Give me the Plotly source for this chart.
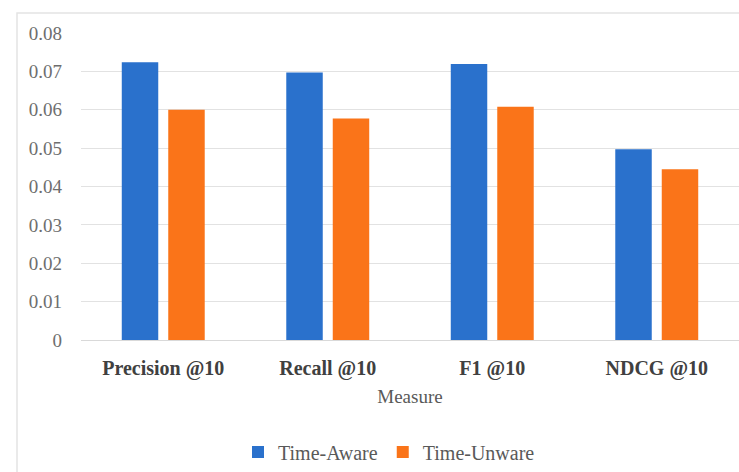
import plotly.graph_objects as go

measures = ["Precision @10", "Recall @10", "F1 @10", "NDCG @10"]
time_aware = [0.0724, 0.0697, 0.0719, 0.0497]
time_unaware = [0.0600, 0.0577, 0.0608, 0.0445]
y_ticks = [0, 0.01, 0.02, 0.03, 0.04, 0.05, 0.06, 0.07, 0.08]

W, H = 739, 472
L, R, T, B = 81, 0, 33, 132
pw, ph = W - L - R, H - T - B

serif = "Liberation Serif"

fig = go.Figure()
fig.add_trace(go.Bar(name="Time-Aware", x=measures, y=time_aware,
                     marker=dict(color="#2A71CC", line=dict(width=0))))
fig.add_trace(go.Bar(name="Time-Unware", x=measures, y=time_unaware,
                     marker=dict(color="#FA7419", line=dict(width=0))))


def px_x(p):
    return (p - L) / pw


def px_y(p):
    return (H - B - p) / ph


# light outer frame of the chart area
fig.add_shape(type="rect", xref="paper", yref="paper",
              x0=px_x(17), x1=px_x(760), y0=px_y(13), y1=px_y(490),
              line=dict(color="#E4E4E4", width=1.5), fillcolor="rgba(0,0,0,0)",
              layer="below")

fig.update_layout(
    width=W, height=H,
    margin=dict(l=L, r=R, t=T, b=B),
    paper_bgcolor="white", plot_bgcolor="white",
    barmode="group", bargap=0.435, bargroupgap=0.215,
    font=dict(family=serif, color="#595959"),
    showlegend=True,
    legend=dict(orientation="h", x=px_x(389), xanchor="center",
                y=px_y(452), yanchor="middle",
                font=dict(size=20, color="#595959", family=serif),
                itemwidth=30, traceorder="normal"),
    xaxis=dict(
        showgrid=False, showline=False, zeroline=False,
        tickfont=dict(size=20, color="#404040", family=serif, weight="bold"),
        ticks="", ticklabelstandoff=14,
        title=dict(text="Measure", font=dict(size=19, color="#595959", family=serif),
                   standoff=10),
    ),
    yaxis=dict(
        range=[0, 0.08], tickvals=y_ticks,
        ticktext=[("0" if v == 0 else f"{v:.2f}") for v in y_ticks],
        showgrid=True, gridcolor="#E2E2E2", gridwidth=1,
        zeroline=True, zerolinecolor="#D9D9D9", zerolinewidth=1,
        showline=False, ticks="",
        tickfont=dict(size=19, color="#6E6E6E", family=serif),
        ticklabelstandoff=18,
    ),
)

fig.write_html("out.html")
